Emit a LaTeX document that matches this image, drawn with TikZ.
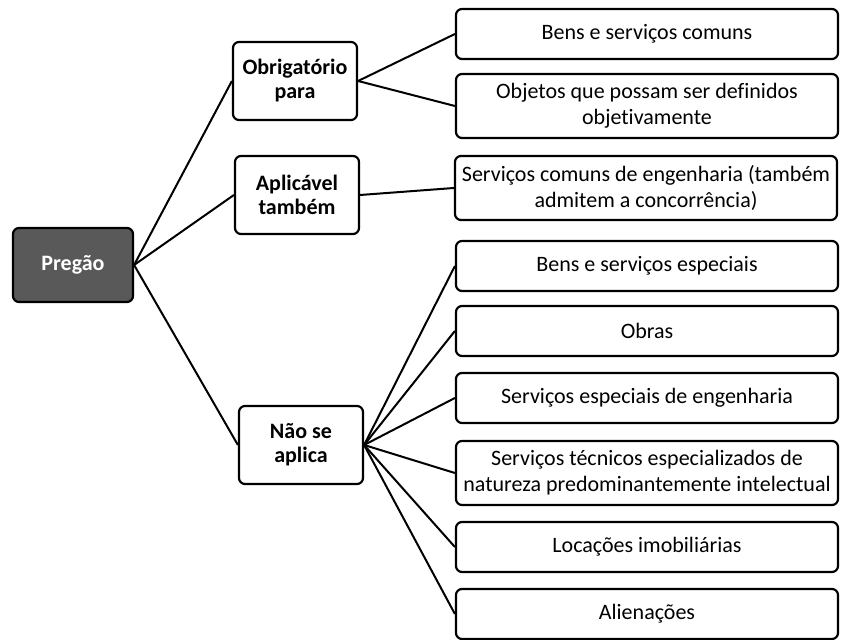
\documentclass[tikz,border=0pt]{standalone}
\usepackage{fontspec}
\setmainfont{Carlito}[Ligatures=NoCommon]
\usetikzlibrary{positioning}

\begin{document}
\begin{tikzpicture}[
    x=0.5pt, y=-0.5pt,
    font=\fontsize{11}{13}\selectfont,
    box/.style={draw=black, line width=1.1pt, rounded corners=3pt, align=center, inner sep=3pt},
    rootbox/.style={box, fill=black!65, text=white, font=\fontsize{11}{13}\selectfont\bfseries, minimum width=60pt, minimum height=37pt},
    midbox/.style={box, font=\fontsize{11}{12}\selectfont\bfseries, minimum width=62pt, minimum height=39pt},
    leafbox/.style={box, minimum width=191pt, minimum height=25pt},
    tallbox/.style={leafbox, minimum height=32pt},
    link/.style={line width=1pt}
]
\useasboundingbox (0,0) rectangle (842,640);
% root and middle level
\node[rootbox] (pregao) at (73,265) {Pregão};
\node[midbox] (obrig) at (295,81) {Obrigatório\\para};
\node[midbox] (aplic) at (297,195) {Aplicável\\também};
\node[midbox] (naoaplic) at (301,445) {Não se\\aplica};
% leaves
\node[leafbox] (benscom) at (647,34) {Bens e serviços comuns};
\node[tallbox] (objetos) at (647,106) {Objetos que possam ser definidos\\objetivamente};
\node[tallbox] (servcom) at (646,188) {Serviços comuns de engenharia (também\\admitem a concorrência)};
\node[leafbox] (bensesp) at (647,266) {Bens e serviços especiais};
\node[leafbox] (obras) at (647,331) {Obras};
\node[leafbox] (servesp) at (647,398) {Serviços especiais de engenharia};
\node[tallbox] (servtec) at (647,473) {Serviços técnicos especializados de\\natureza predominantemente intelectual};
\node[leafbox] (locacoes) at (647,547) {Locações imobiliárias};
\node[leafbox] (alien) at (647,614) {Alienações};
% connectors
\draw[link] (pregao.east) -- (obrig.west);
\draw[link] (pregao.east) -- (aplic.west);
\draw[link] (pregao.east) -- (naoaplic.west);
\draw[link] (obrig.east) -- (benscom.west);
\draw[link] (obrig.east) -- (objetos.west);
\draw[link] (aplic.east) -- (servcom.west);
\foreach \leaf in {bensesp,obras,servesp,servtec,locacoes,alien}
    \draw[link] (naoaplic.east) -- (\leaf.west);
\end{tikzpicture}
\end{document}
